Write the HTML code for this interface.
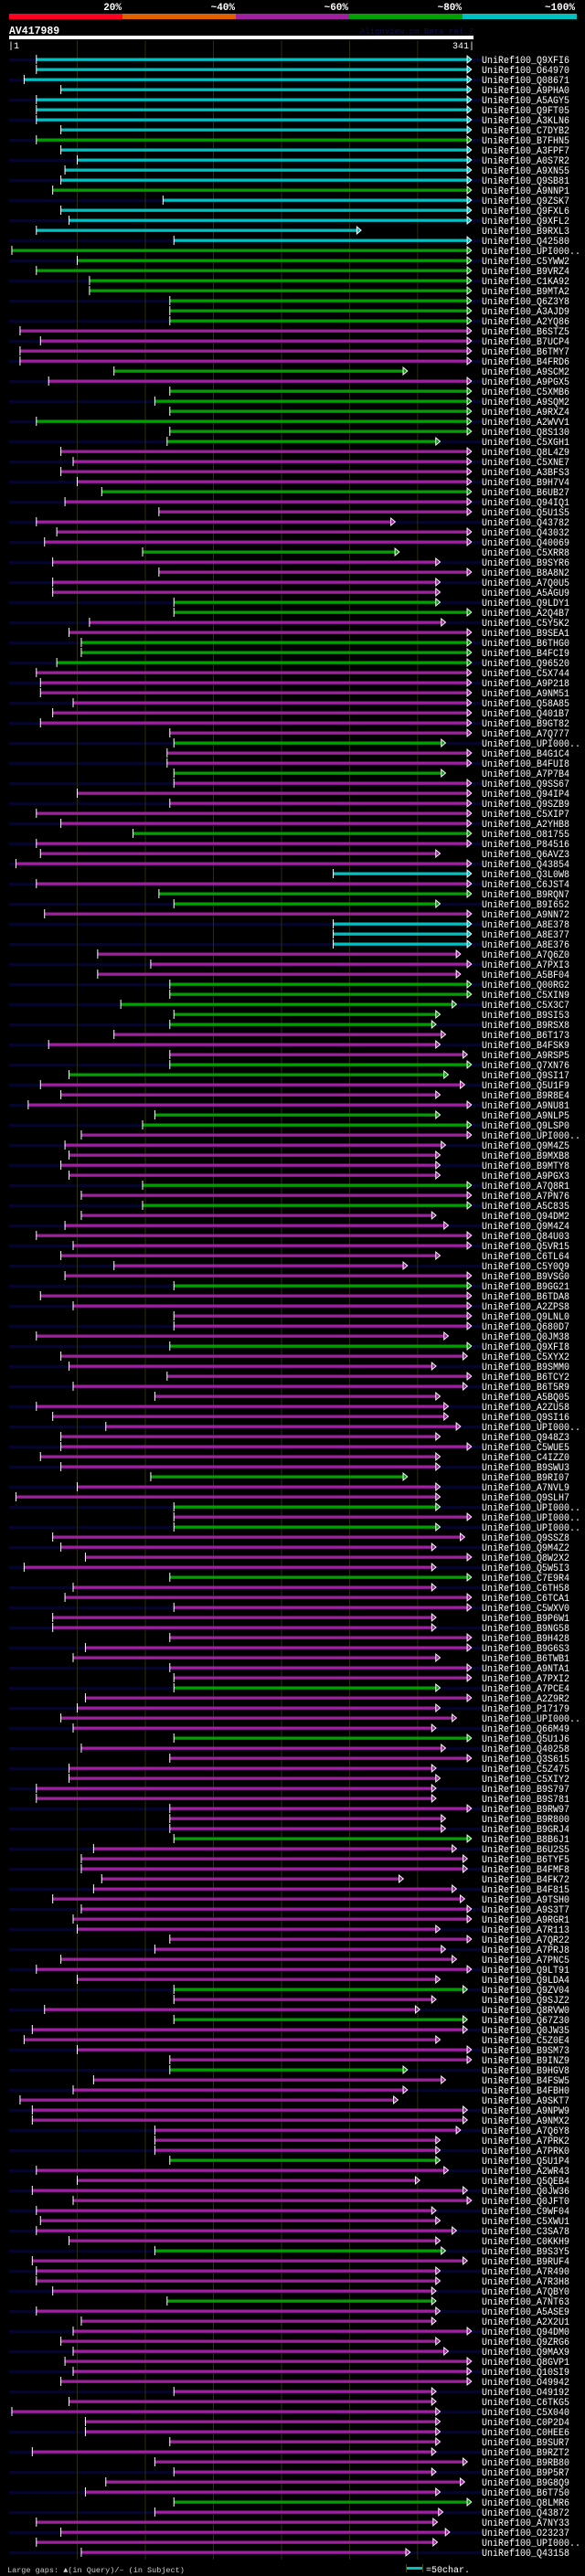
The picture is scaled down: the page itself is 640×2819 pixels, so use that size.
<!DOCTYPE html>
<html><head><meta charset="utf-8"><style>
html,body{margin:0;padding:0;background:#000;}
svg{display:block;}
text{font-family:"Liberation Mono","DejaVu Sans Mono",monospace;}
</style></head><body>
<svg id="chart" width="640" height="2819" viewBox="0 0 640 2819" xmlns="http://www.w3.org/2000/svg">
<rect x="0" y="0" width="640" height="2819" fill="#000"/>
<g>
<rect x="10" y="15" width="124" height="6" fill="#ff0020"/>
<rect x="134" y="15" width="124" height="6" fill="#e06000"/>
<rect x="258" y="15" width="124" height="6" fill="#a020a0"/>
<rect x="382" y="15" width="124" height="6" fill="#00a000"/>
<rect x="506" y="15" width="125" height="6" fill="#00c0c0"/>
<text x="133" y="11" fill="#fff" font-size="11" font-weight="bold" text-anchor="end">20%</text>
<text x="257" y="11" fill="#fff" font-size="11" font-weight="bold" text-anchor="end">~40%</text>
<text x="381" y="11" fill="#fff" font-size="11" font-weight="bold" text-anchor="end">~60%</text>
<text x="505" y="11" fill="#fff" font-size="11" font-weight="bold" text-anchor="end">~80%</text>
<text x="629" y="11" fill="#fff" font-size="11" font-weight="bold" text-anchor="end">~100%</text>
</g>
<text x="10" y="37" fill="#fff" font-size="11.5" font-weight="bold">AV417989</text>
<text x="518" y="37" fill="#101048" font-size="9" text-anchor="end">AlignView.pm Beta rel.7</text>
<rect x="10" y="39" width="508" height="4" fill="#fff"/>
<text x="9" y="53" fill="#fff" font-size="10">|1</text>
<text x="519" y="53" fill="#fff" font-size="10" text-anchor="end">341|</text>
<g id="stripes"></g>
<g id="grid"></g>
<g id="hits"></g>
<g>
<text x="8" y="2815" fill="#ccc" font-size="8.5">Large gaps: ▲(in Query)/– (in Subject)</text>
<rect x="444" y="2809" width="18" height="3" fill="#00c0c0"/>
<rect x="444" y="2806" width="1" height="9" fill="#444400"/>
<rect x="462" y="2806" width="1" height="9" fill="#444400"/>
<text x="466" y="2815" fill="#fff" font-size="10">=50char.</text>
</g>
</svg>
<script>
const names = ["Q9XFI6","O64970","Q08671","A9PHA0","A5AGY5","Q9FT05","A3KLN6","C7DYB2","B7FHN5","A3FPF7","A0S7R2","A9XN55","Q9SB81","A9NNP1","Q9ZSK7","Q9FXL6","Q9XFL2","B9RXL3","Q42580","UPI000..","C5YWW2","B9VRZ4","C1KA92","B9MTA2","Q6Z3Y8","A3AJD9","A2YQ86","B6STZ5","B7UCP4",
"B6TMY7","B4FRD6","A9SCM2","A9PGX5","C5XMB6","A9SQM2","A9RXZ4","A2WVV1","Q8S130","C5XGH1","Q8L4Z9","C5XNE7","A3BFS3","B9H7V4","B6UB27","Q94IQ1","Q5U1S5","Q43782","Q43032","Q40069","C5XRR8","B9SYR6","B8A8N2","A7Q0U5",
"A5AGU9","Q9LDY1","A2Q4B7","C5Y5K2","B9SEA1","B6THG0","B4FCI9","Q96520","C5X744","A9P218","A9NM51","Q58A85","Q401B7","B9GT82","A7Q777","UPI000..","B4G1C4","B4FUI8","A7P7B4","Q9SS67","Q94IP4","Q9SZB9","C5XIP7","A2YHB8",
"O81755","P84516","Q6AVZ3","Q43854","Q3L0W8","C6JST4","B9RQN7","B9I652","A9NN72","A8E378","A8E377","A8E376","A7Q6Z0","A7PXI3","A5BF04","Q00RG2","C5XIN9","C5X3C7","B9SI53","B9RSX8","B6T173","B4FSK9","A9RSP5","Q7XN76",
"Q9SI17","Q5U1F9","B9R8E4","A9NU81","A9NLP5","Q9LSP0","UPI000..","Q9M4Z5","B9MXB8","B9MTY8","A9PGX3","A7Q8R1","A7PN76","A5C835","Q94DM2","Q9M4Z4","Q84U03","Q5VR15","C6TL64","C5Y0Q9","B9VSG0","B9GG21","B6TDA8","A2ZPS8",
"Q9LNL0","Q680D7","Q0JM38","Q9XFI8","C5XYX2","B9SMM0","B6TCY2","B6T5R9","A5BQ05","A2ZU58","Q9SI16","UPI000..","Q948Z3","C5WUE5","C4IZZ0","B9SWU3","B9RI07","A7NVL9","Q9SLH7","UPI000..","UPI000..","UPI000..","Q9SSZ8","Q9M4Z2",
"Q8W2X2","Q5W5I3","C7E9R4","C6TH58","C6TCA1","C5WXV0","B9P6W1","B9NG58","B9H428","B9G6S3","B6TWB1","A9NTA1","A7PXI2","A7PCE4","A2Z9R2","P17179","UPI000..","Q66M49","Q5U1J6","Q40258","Q3S615","C5Z475","C5XIY2","B9S797",
"B9S781","B9RW97","B9R800","B9GRJ4","B8B6J1","B6U2S5","B6TYF5","B4FMF8","B4FK72","B4F815","A9TSH0","A9S3T7","A9RGR1","A7R113","A7QR22","A7PRJ8","A7PNC5","Q9LT91","Q9LDA4","Q9ZV04","Q9SJZ2","Q8RVW0","Q67Z30","Q0JW35",
"C5Z0E4","B9SM73","B9INZ9","B9HGV8","B4FSW5","B4FBH0","A9SKT7","A9NPW9","A9NMX2","A7Q6Y8","A7PRK2","A7PRK0","Q5U1P4","A2WR43","Q5QEB4","Q0JW36","Q0JFT0","C9WF04","C5XWU1","C3SA78","C0KKH9","B9S3Y5","B9RUF4","A7R490",
"A7R3H8","A7QBY0","A7NT63","A5ASE9","A2X2U1","Q94DM0","Q9ZRG6","Q9MAX9","Q8GVP1","Q10SI9","O49942","O49192","C6TKG5","C5X040","C0P2D4","C0HEE6","B9SUR7","B9RZT2","B9RB80","B9P5R7","B9G8Q9","B6T750","Q8LMR6",
"Q43872","A7NY33","O23237","UPI000..","Q43158"];
const starts = [21,21,12,39,21,21,21,39,21,39,51,42,39,33,114,39,45,21,122,3,51,21,60,60,119,119,119,9,24,
9,9,78,30,119,108,119,21,119,117,39,48,39,51,69,42,111,21,36,27,99,33,111,33,
33,122,122,60,45,54,54,36,21,24,24,48,33,24,119,122,117,117,122,122,51,119,21,39,
92,21,24,6,239,21,111,122,27,239,239,239,66,105,66,119,119,83,122,119,78,30,119,119,
45,24,39,15,108,99,54,42,45,39,45,99,54,99,54,42,21,48,39,78,42,122,24,48,
122,122,21,119,39,45,117,48,108,21,33,72,39,39,24,39,105,51,6,122,122,122,33,39,
57,12,119,48,42,122,33,33,119,57,48,119,122,122,57,51,39,48,122,54,119,45,45,21,
21,119,119,119,122,63,54,54,69,63,33,54,48,51,119,108,39,21,51,122,122,27,122,18,
12,51,119,119,63,48,9,18,18,108,108,108,119,21,51,18,48,21,24,21,45,108,18,21,
21,33,117,21,54,48,39,48,42,48,39,122,45,3,57,57,119,18,108,122,72,57,122,
108,21,39,21,54];
const ends = [337,337,337,337,337,337,337,337,337,337,337,337,337,337,337,337,337,256,337,337,337,337,337,337,337,337,337,337,337,
337,337,290,337,337,337,337,337,337,314,337,337,337,337,337,337,337,281,337,337,284,314,337,314,
314,314,337,318,337,337,337,337,337,337,337,337,337,337,337,318,337,337,318,337,337,337,337,337,
337,337,314,337,337,337,337,314,337,337,337,337,329,337,329,337,337,326,314,311,318,314,334,337,
320,332,314,337,314,337,337,318,314,314,314,337,337,337,311,320,337,337,314,290,337,337,337,337,
337,337,320,337,334,311,337,334,314,320,320,329,314,337,314,314,290,314,314,314,337,314,332,311,
337,311,337,311,337,337,311,311,337,337,314,337,337,314,337,314,326,311,337,318,337,311,314,311,
311,337,318,318,337,326,334,334,287,326,332,337,337,314,337,318,326,337,314,334,311,299,334,334,
314,337,337,290,318,290,283,334,334,329,314,314,314,320,299,334,337,311,314,326,314,318,334,314,
314,311,311,314,311,337,314,320,337,337,337,311,311,314,314,314,314,311,334,311,332,314,337,
316,312,321,312,292];
const types = ["c","c","c","c","c","c","c","c","g","c","c","c","c","g","c","c","c","c","c","g","g","g","g","g","g","g","g","m","m",
"m","m","g","m","g","g","g","g","g","g","m","m","m","m","g","m","m","m","m","m","g","m","m","m",
"m","g","g","m","m","g","g","g","m","m","m","m","m","m","m","g","m","m","g","m","m","m","m","m",
"g","m","m","m","c","m","g","g","m","c","c","c","m","m","m","g","g","g","g","g","m","m","m","g",
"g","m","m","m","g","g","m","m","m","m","m","g","m","g","m","m","m","m","m","m","m","g","m","m",
"m","m","m","g","m","m","m","m","m","m","m","m","m","m","m","m","g","m","m","g","m","g","m","m",
"m","m","g","m","m","m","m","m","m","m","m","m","m","g","m","m","m","m","g","m","m","m","m","m",
"m","m","m","m","g","m","m","m","m","m","m","m","m","m","m","m","m","m","m","g","m","m","g","m",
"m","m","m","g","m","m","m","m","m","m","m","m","g","m","m","m","m","m","m","m","m","g","m","m",
"m","m","g","m","m","m","m","m","m","m","m","m","m","m","m","m","m","m","m","m","m","m","g",
"m","m","m","m","m"];
const gridTicks = [51,101,151,201,251,301];

const NS = "http://www.w3.org/2000/svg";
const colorOf = {c:"#00c0c0", g:"#00a000", m:"#a020a0"};
function xScale(aa){ return 10 + (aa-1)*508/341; }
function yScale(i){ return 65 + i*11; }
function mk(tag, attrs, parent){
  const e = document.createElementNS(NS, tag);
  for (const k in attrs) e.setAttribute(k, attrs[k]);
  parent.appendChild(e);
  return e;
}
const stripes = document.getElementById('stripes');
const grid = document.getElementById('grid');
const hits = document.getElementById('hits');

for (let i = 0; i < names.length; i += 2) {
  const r = mk('rect', {x:10, y:yScale(i)-1, width:517, height:3, fill:'#05052a'}, stripes);
  
  
}
const gridBottom = yScale(names.length-1) + 8;
gridTicks.forEach(function(t){
  const l = mk('rect', {x:xScale(t)-0.5, y:44, width:1, height:gridBottom-44, fill:'#2e2e0c'}, grid);
  
  
});

names.forEach(function(n, i){
  const y = yScale(i);
  const x0 = xScale(starts[i]);
  const x1 = xScale(ends[i]);
  const col = colorOf[types[i]];
  const g = mk('g', {}, hits);
  
  
  const bar = mk('rect', {x:x0, y:y-1.5, width:x1-x0, height:3.3, fill:col}, g);
  
  
  const st = mk('rect', {x:x0-0.5, y:y-5, width:1, height:10, fill:'#fff'}, g);
  
  
  const ao = mk('polygon', {points:(x1)+','+(y-5)+' '+(x1+6)+','+y+' '+(x1)+','+(y+5), fill:'#fff'}, g);
  
  
  const ai = mk('polygon', {points:(x1+1)+','+(y-3)+' '+(x1+4.5)+','+y+' '+(x1+1)+','+(y+3), fill:col}, g);
  
  
  const tx = mk('text', {x:527, y:y+4, fill:'#fff', 'font-size':11}, g);
  
  
  const label = 'UniRef100_' + n;
  tx.setAttribute('textLength', label.length*6);
  tx.setAttribute('lengthAdjust', 'spacingAndGlyphs');
  tx.textContent = label;
});
</script>
</body></html>
